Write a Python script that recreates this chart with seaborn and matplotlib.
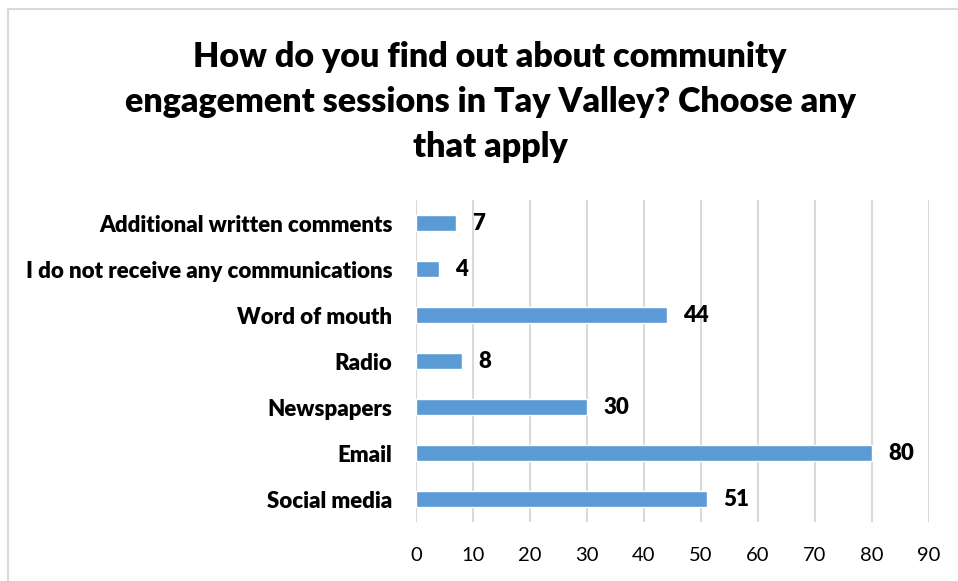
import matplotlib
matplotlib.use("Agg")
import matplotlib.pyplot as plt
import seaborn as sns
import pandas as pd
from matplotlib.patches import Rectangle

categories = [
    "Additional written comments",
    "I do not receive any communications",
    "Word of mouth",
    "Radio",
    "Newspapers",
    "Email",
    "Social media",
]
counts = [7, 4, 44, 8, 30, 80, 51]
x_ticks = [0, 10, 20, 30, 40, 50, 60, 70, 80, 90]

title = ("How do you find out about community\n"
         "engagement sessions in Tay Valley? Choose any\n"
         "that apply")

df = pd.DataFrame({"source": categories, "count": counts})

sns.set_theme(style="white")
plt.rcParams["font.family"] = ["Lato", "DejaVu Sans"]

fig = plt.figure(figsize=(9.58, 5.81), dpi=100)
ax = fig.add_axes([416 / 958, 1 - 522 / 581, (929 - 416) / 958, (522 - 200) / 581])

sns.barplot(data=df, x="count", y="source", order=categories, color="#5B9BD5",
            width=0.35, saturation=1, ax=ax, zorder=3)

ax.set_xlim(0, 90)
ax.set_ylim(6.5, -0.5)
ax.set_xticks(x_ticks)
ax.set_xticklabels([str(t) for t in x_ticks], fontsize=14.5, color="#000000")
ax.tick_params(axis="x", length=0, pad=18)
ax.tick_params(axis="y", length=0, pad=17)
for lbl in ax.get_yticklabels():
    lbl.set_fontsize(16)
    lbl.set_fontweight("heavy")
    lbl.set_color("#000000")
ax.set_xlabel("")
ax.set_ylabel("")
ax.xaxis.grid(True, color="#D9D9D9", linewidth=1.5, zorder=0)
ax.yaxis.grid(False)
for s in ax.spines.values():
    s.set_visible(False)

for i, v in enumerate(counts):
    ax.text(v + 2.9, i, str(v), va="center", ha="left", fontsize=16,
            fontweight="heavy", color="#000000")

fig.text(490 / 958, 1 - 102 / 581, title, ha="center", va="center",
         fontsize=24.5, fontweight="heavy", color="#000000", linespacing=1.5)

# chart frame
fig.patches.append(Rectangle((8 / 958, -0.1), 1.2, 1 - 9 / 581 + 0.1,
                             transform=fig.transFigure, fill=False,
                             edgecolor="#D9D9D9", linewidth=1.5))

fig.savefig("out.png", dpi=100)
